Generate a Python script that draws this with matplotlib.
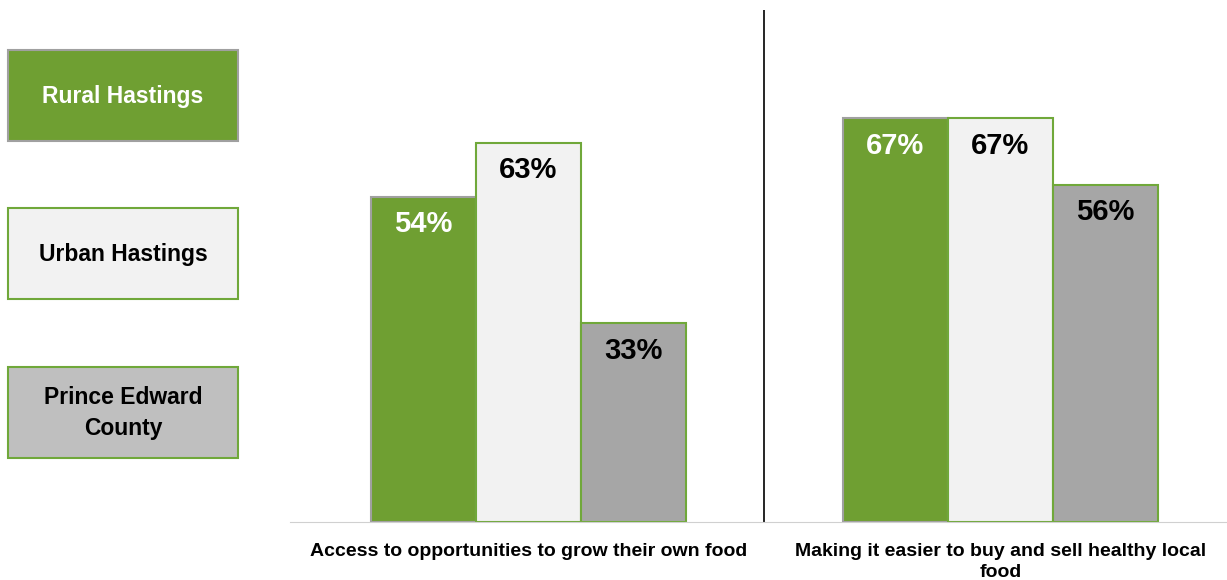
import matplotlib.pyplot as plt
from matplotlib.patches import Rectangle

plt.rcParams['font.family'] = ['Liberation Sans', 'DejaVu Sans']

categories = ["Access to opportunities to grow their own food",
              "Making it easier to buy and sell healthy local\nfood"]
series_names = ["Rural Hastings", "Urban Hastings", "Prince Edward\nCounty"]
rural = [54, 67]
urban = [63, 67]
pec = [33, 56]

fills = ["#6f9f32", "#f2f2f2", "#a6a6a6"]
edges = ["#a0a0a0", "#70a83a", "#70a83a"]
label_colors = ["white", "black", "black"]
legend_fills = ["#6f9f32", "#f2f2f2", "#bfbfbf"]
legend_text = ["white", "black", "black"]

W, H = 1227, 580
fig = plt.figure(figsize=(W / 100, H / 100), dpi=100)
ax = fig.add_axes([290 / W, 58 / H, (W - 290) / W, (522 - 10) / H])

width = 0.2225
x = [0, 1]
values = [rural, urban, pec]
for i, vals in enumerate(values):
    pos = [xx + (i - 1) * width for xx in x]
    bars = ax.bar(pos, vals, width=width, color=fills[i], edgecolor=edges[i],
                  linewidth=1.5, zorder=2)
    for b, v in zip(bars, vals):
        ax.text(b.get_x() + b.get_width() / 2, v - 4.6, f"{v}%",
                ha="center", va="center", fontsize=21, fontweight="bold",
                color=label_colors[i], zorder=3)

ax.set_xlim(-0.505, 1.48)
ax.set_ylim(0, 85)
ax.axvline(0.499, color="black", linewidth=1.2, zorder=1)
for s in ["top", "right", "left"]:
    ax.spines[s].set_visible(False)
ax.spines["bottom"].set_color("#d0d0d0")
ax.set_yticks([])
ax.set_xticks(x)
ax.set_xticklabels(categories, fontsize=14, fontweight="bold", linespacing=1.35)
ax.tick_params(axis="x", length=0, pad=15)

# legend boxes on the left
box_tops = [50, 208, 367]
for name, top, fc, tc, ec in zip(series_names, box_tops, legend_fills, legend_text,
                                  ["#a0a0a0", "#70a83a", "#70a83a"]):
    fig.add_artist(Rectangle((8 / W, 1 - (top + 91) / H), 230 / W, 91 / H,
                             transform=fig.transFigure, facecolor=fc,
                             edgecolor=ec, linewidth=1.5))
    fig.text(123 / W, 1 - (top + 46) / H, name, ha="center", va="center",
             fontsize=16.5, fontweight="bold", color=tc, linespacing=1.4)

fig.savefig("out.png", dpi=100)
